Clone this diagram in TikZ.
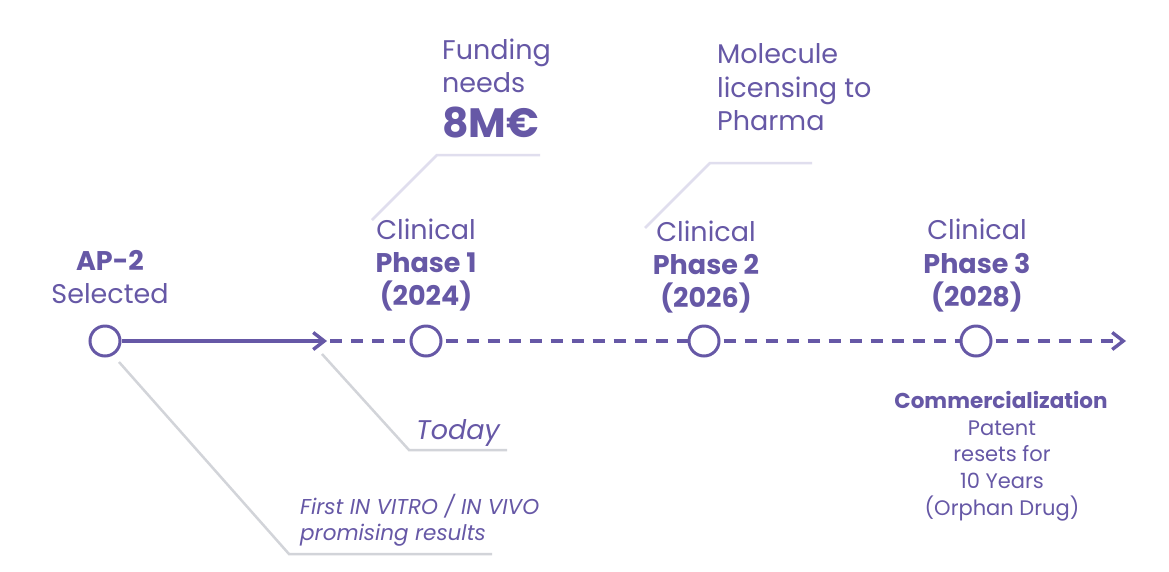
\documentclass[tikz,border=0pt]{standalone}
\usepackage{fontspec}
\setmainfont{Poppins}
\usetikzlibrary{arrows.meta}
\definecolor{pur}{HTML}{6658A6}
\definecolor{gline}{HTML}{D2D4D9}
\definecolor{lline}{HTML}{E0DEEE}
\tikzset{
  x=1pt, y=-1pt,
  milestone/.style={circle, draw=pur, line width=3pt, fill=white, minimum size=30pt, inner sep=0pt},
  txt/.style={text=pur, inner sep=0pt, anchor=base, font=\fontsize{27}{33}\selectfont},
  txtb/.style={txt, font=\fontsize{27}{33}\selectfont\bfseries},
  ltxt/.style={txt, anchor=base west},
  small/.style={text=pur, inner sep=0pt, anchor=base, font=\fontsize{21}{26}\selectfont},
  smallb/.style={small, font=\fontsize{21.5}{26}\selectfont\bfseries},
  solidline/.style={draw=pur, line width=3.2pt},
  dashline/.style={draw=pur, line width=3.2pt, dash pattern=on 12pt off 9pt, dash phase=-3pt},
  tip/.style={-{Straight Barb[length=11pt,width=17pt,line width=3.4pt]}},
  leaderlow/.style={draw=gline, line width=2.5pt},
  leaderhigh/.style={draw=lline, line width=2.5pt},
}
\begin{document}
\begin{tikzpicture}
\useasboundingbox (0,0) rectangle (1169,571);
\fill[white] (0,0) rectangle (1169,571);

% leader lines
\coordinate (lf1) at (372,220); \coordinate (lf2) at (437,155); \coordinate (lf3) at (540,155);
\draw[leaderhigh] (lf1) -- (lf2) -- (lf3);
\coordinate (lm1) at (645,228); \coordinate (lm2) at (710,163); \coordinate (lm3) at (812,163);
\draw[leaderhigh] (lm1) -- (lm2) -- (lm3);
\coordinate (lt1) at (322,354); \coordinate (lt2) at (409,450); \coordinate (lt3) at (507,450);
\draw[leaderlow] (lt1) -- (lt2) -- (lt3);
\coordinate (lv1) at (119,362); \coordinate (lv2) at (289,554); \coordinate (lv3) at (492,554);
\draw[leaderlow] (lv1) -- (lv2) -- (lv3);

% timeline
\coordinate (today) at (327,341);
\coordinate (tend) at (1126,341);
\node[milestone] (c1) at (105,341) {};
\node[milestone] (c2) at (426,341) {};
\node[milestone] (c3) at (704,341) {};
\node[milestone] (c4) at (976,341) {};
\draw[solidline, tip] (c1.east) -- (today);
\draw[dashline] (today) -- (c2.west);
\draw[dashline] (c2.east) -- (c3.west);
\draw[dashline] (c3.east) -- (c4.west);
\draw[dashline, tip] (c4.east) -- (tend);

% labels
\node[txtb] (ap) at (110,270) {AP-2};
\node[txt] (sel) at (110,303) {Selected};

\node[txt] (p1a) at (426,239) {Clinical};
\node[txtb] (p1b) at (426,272) {Phase 1};
\node[txtb] (p1c) at (426,305) {(2024)};

\node[txt] (p2a) at (706,241) {Clinical};
\node[txtb] (p2b) at (706,274) {Phase 2};
\node[txtb] (p2c) at (706,307) {(2026)};

\node[txt] (p3a) at (977,239) {Clinical};
\node[txtb] (p3b) at (977,273) {Phase 3};
\node[txtb] (p3c) at (977,306) {(2028)};

\node[ltxt] (f1) at (442,59) {Funding};
\node[ltxt] (f2) at (442,92) {needs};
\node[ltxt, font=\fontsize{41}{41}\selectfont\bfseries] (f3) at (442,137) {8M€};

\node[ltxt] (m1) at (717,63) {Molecule};
\node[ltxt] (m2) at (717,97) {licensing to};
\node[ltxt] (m3) at (717,130) {Pharma};

\node[ltxt, font=\fontsize{27}{33}\selectfont\itshape] (td) at (416,439) {Today};

\node[small, anchor=base west, font=\fontsize{21.5}{26}\selectfont\itshape] (v1) at (300,514) {First IN VITRO / IN VIVO};
\node[small, anchor=base west, font=\fontsize{21.5}{26}\selectfont\itshape] (v2) at (300,540) {promising results};

\node[smallb] (cm) at (1001,408) {Commercialization};
\node[small] (pt1) at (1002,435) {Patent};
\node[small] (pt2) at (1002,461) {resets for};
\node[small] (pt3) at (1002,488) {10 Years};
\node[small] (pt4) at (1002,515) {(Orphan Drug)};
\end{tikzpicture}
\end{document}
